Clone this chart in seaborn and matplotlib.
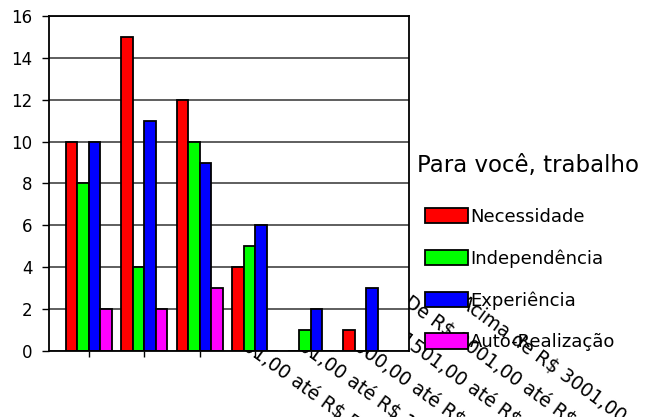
import pandas as pd
import matplotlib
matplotlib.use("Agg")
import matplotlib.pyplot as plt
import seaborn as sns
from matplotlib.patches import Patch
from matplotlib import transforms

# faixas de renda (eixo x)
faixas = ["De R$ 201,00 até R$ 500,00",
          "De R$ 501,00 até R$ 1000,00",
          "De R$ 1000,00 até R$ 1500,00",
          "De R$ 1501,00 até R$ 2000,00",
          "De R$ 2001,00 até R$ 3000,00",
          "Acima de R$ 3001,00"]

series = ["Necessidade", "Independência", "Experiência", "Auto-Realização"]
necessidade = [10, 15, 12, 4, 0, 1]
independencia = [8, 4, 10, 5, 1, 0]
experiencia = [10, 11, 9, 6, 2, 3]
auto_realizacao = [2, 2, 3, 0, 0, 0]

cores = ["#ff0000", "#00ff00", "#0000ff", "#ff00ff"]
y_ticks = [0, 2, 4, 6, 8, 10, 12, 14, 16]
titulo_legenda = "Para você, trabalho"

valores = [necessidade, independencia, experiencia, auto_realizacao]
df = pd.DataFrame({
    "faixa": faixas * len(series),
    "serie": [s for s in series for _ in faixas],
    "valor": [v for vals in valores for v in vals],
})

sns.set_theme(style="white")
plt.rcParams["font.family"] = ["DejaVu Sans"]

fig = plt.figure(figsize=(6.58, 4.17), dpi=100)
ax = fig.add_axes([0.0745, 0.1583, 0.547, 0.8034])

sns.barplot(data=df, x="faixa", y="valor", hue="serie", order=faixas,
            hue_order=series, palette=cores, saturation=1, width=0.83,
            edgecolor="black", linewidth=1.3, legend=False, ax=ax)

ax.set_ylim(0, 16)
ax.set_xlim(-0.72, 5.77)
ax.set_yticks(y_ticks)
ax.yaxis.grid(True, color="#333333", linewidth=1.1)
ax.set_axisbelow(True)
ax.set_xlabel("")
ax.set_ylabel("")
ax.set_xticks(range(len(faixas)))
ax.set_xticklabels([])
ax.tick_params(axis="y", labelsize=12, length=5, width=1, pad=7, left=True,
               color="black", labelcolor="black")
ax.tick_params(axis="x", length=4, width=1, bottom=True, color="black")
for sp in ax.spines.values():
    sp.set_visible(True)
    sp.set_color("black")
    sp.set_linewidth(1.3)

# rótulos inclinados, desenhados por baixo da área do gráfico
base = transforms.blended_transform_factory(ax.transData, ax.transAxes)
desloc = transforms.ScaledTranslation(0.92, 0.46, fig.dpi_scale_trans)
for i, faixa in enumerate(faixas):
    fig.text(i, 0, faixa, transform=base + desloc, rotation=-36,
             rotation_mode="anchor", ha="left", va="baseline",
             fontsize=13.5, color="black", zorder=-1, parse_math=False)

fig.text(0.634, 0.602, titulo_legenda, fontsize=16.5, color="black",
         ha="left", va="center")

handles = [Patch(facecolor=c, edgecolor="black", linewidth=1.3) for c in cores]
leg = fig.legend(handles, series, loc="upper left",
                 bbox_to_anchor=(0.635, 0.519), borderaxespad=0, frameon=False,
                 fontsize=13, handlelength=2.38, handleheight=0.94,
                 handletextpad=0.1, labelspacing=1.3)
for t in leg.get_texts():
    t.set_color("black")

fig.savefig("out.png", dpi=100)
